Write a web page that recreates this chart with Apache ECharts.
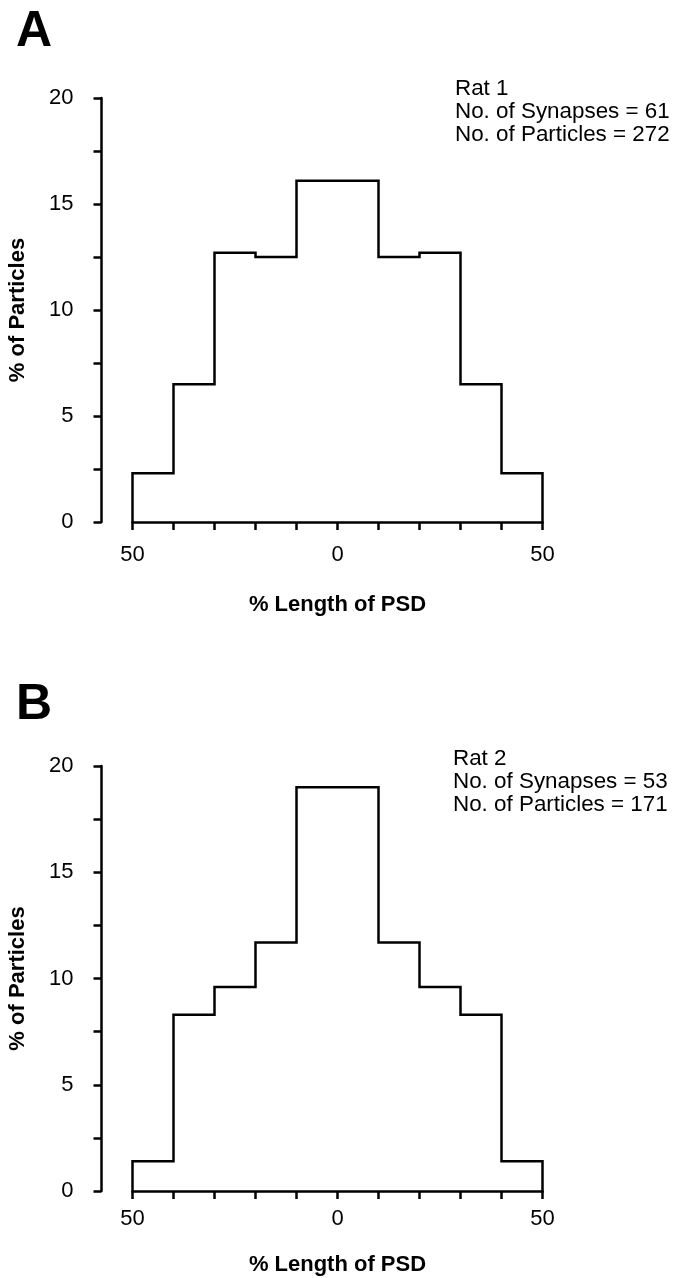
<!DOCTYPE html>
<html>
<head>
<meta charset="utf-8">
<title>Particle distribution along PSD</title>
<script src="https://cdn.jsdelivr.net/npm/echarts@6/dist/echarts.min.js"></script>
<style>
  html, body { margin: 0; padding: 0; background: #fff; }
  #chart { width: 691px; height: 1278px; }
</style>
</head>
<body>
<div id="chart"></div>
<script>
// Bin edges along the PSD (% of length from centre) and per-bin percentages
const binEdges = [-50, -40, -30, -20, -10, 0, 10, 20, 30, 40, 50];
const rat1Pct = [2.3, 6.5, 12.7, 12.5, 16.1, 16.1, 12.5, 12.7, 6.5, 2.3];
const rat2Pct = [1.4, 8.3, 9.6, 11.7, 19.0, 19.0, 11.7, 9.6, 8.3, 1.4];
const xLabelValues = [-50, 0, 50];
const yLabelValues = [0, 5, 10, 15, 20];
const panelLetters = ['A', 'B'];
const panelNotes = [
  ['Rat 1', 'No. of Synapses = 61', 'No. of Particles = 272'],
  ['Rat 2', 'No. of Synapses = 53', 'No. of Particles = 171']
];

const FONT = '"Liberation Sans", Arial, Helvetica, sans-serif';
const INK = '#000';
const LW = 2.5;

// Histogram outline: step up/down at every bin edge, closed to the baseline
function outline(vals) {
  const pts = [[binEdges[0], 0]];
  vals.forEach((v, i) => {
    pts.push([binEdges[i], v]);
    pts.push([binEdges[i + 1], v]);
  });
  pts.push([binEdges[binEdges.length - 1], 0]);
  return pts;
}

const grids = [
  { left: 132.5, width: 410, top: 98, height: 424, outerBoundsMode: 'none', containLabel: false },
  { left: 132.5, width: 410, top: 766, height: 425, outerBoundsMode: 'none', containLabel: false }
];
// spacing of x tick labels and axis title below each panel's baseline
const xLabelMargin = [22, 17];
const xNameGap = [72, 63];
const noteTop = [77, 747];

const xAxes = grids.map((g, i) => ({
  type: 'value', gridIndex: i, min: -50, max: 50, interval: 10,
  axisLine: { show: true, onZero: false, lineStyle: { color: INK, width: LW } },
  axisTick: { show: true, length: 8, lineStyle: { color: INK, width: LW } },
  axisLabel: {
    margin: xLabelMargin[i], color: INK, fontFamily: FONT, fontSize: 22,
    formatter: v => xLabelValues.includes(v) ? String(Math.abs(v)) : ''
  },
  splitLine: { show: false },
  name: '% Length of PSD', nameLocation: 'middle', nameGap: xNameGap[i],
  nameTextStyle: { color: INK, fontFamily: FONT, fontSize: 22, fontWeight: 'bold' }
}));

const yAxes = grids.map((g, i) => ({
  type: 'value', gridIndex: i, min: 0, max: 20, interval: 2.5, offset: 31,
  axisLine: { show: true, onZero: false, lineStyle: { color: INK, width: LW } },
  axisTick: { show: true, length: 8, lineStyle: { color: INK, width: LW } },
  axisLabel: {
    margin: 28, color: INK, fontFamily: FONT, fontSize: 22,
    formatter: v => yLabelValues.includes(v) ? String(v) : ''
  },
  splitLine: { show: false },
  name: '% of Particles', nameLocation: 'middle', nameGap: 73,
  nameTextStyle: { color: INK, fontFamily: FONT, fontSize: 22, fontWeight: 'bold' }
}));

const series = [rat1Pct, rat2Pct].map((vals, i) => ({
  type: 'line', xAxisIndex: i, yAxisIndex: i,
  data: outline(vals), showSymbol: false, silent: true, clip: false,
  lineStyle: { color: INK, width: LW, join: 'miter', cap: 'butt' }
}));

const graphic = [];
panelLetters.forEach((letter, i) => {
  const baseY = i === 0 ? 0 : 673;
  graphic.push({
    type: 'text', left: 16, top: baseY + 7,
    style: { text: letter, font: 'bold 50px ' + FONT, fill: INK }
  });
  graphic.push({
    type: 'text', left: i === 0 ? 455 : 453, top: noteTop[i],
    style: { text: panelNotes[i].join('\n'), font: '22.4px ' + FONT, lineHeight: 23, fill: INK }
  });
});

const chart = echarts.init(document.getElementById('chart'), null, { renderer: 'canvas' });
chart.setOption({
  backgroundColor: '#fff',
  animation: false,
  grid: grids,
  xAxis: xAxes,
  yAxis: yAxes,
  series: series,
  graphic: graphic
});
</script>
</body>
</html>
